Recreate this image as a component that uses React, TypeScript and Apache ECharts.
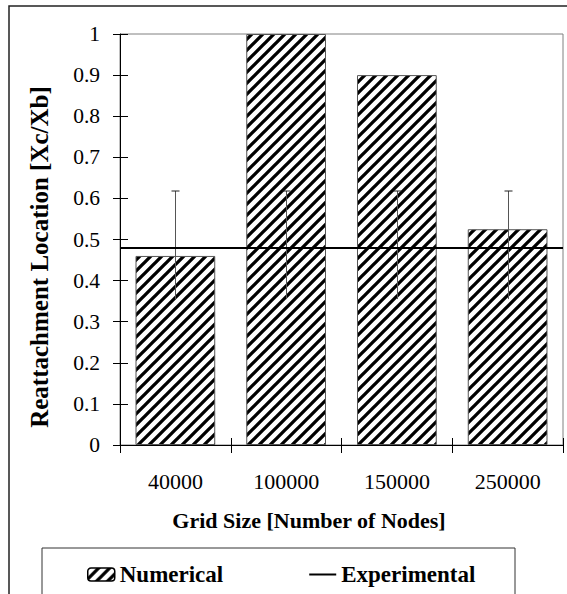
import React, { useEffect, useRef } from "react";
import * as echarts from "echarts";

const categories = ["40000", "100000", "150000", "250000"];
const numerical = [0.46, 1.0, 0.9, 0.525];
const experimental = 0.485;
const expLow = [0.355, 0.355, 0.355, 0.355];
const expHigh = [0.618, 0.618, 0.618, 0.618];
const yTitle = "Reattachment Location [Xc/Xb]";
const xTitle = "Grid Size [Number of Nodes]";

const FONT = "'Liberation Serif', 'Times New Roman', serif";

function makeHatch() {
  const s = 11;
  const c = document.createElement("canvas");
  c.width = s;
  c.height = s;
  const ctx = c.getContext("2d")!;
  ctx.fillStyle = "#fff";
  ctx.fillRect(0, 0, s, s);
  ctx.strokeStyle = "#000";
  ctx.lineWidth = 3.3;
  ctx.beginPath();
  ctx.moveTo(-1, s + 1);
  ctx.lineTo(s + 1, -1);
  ctx.moveTo(-3, 3);
  ctx.lineTo(3, -3);
  ctx.moveTo(s - 3, s + 3);
  ctx.lineTo(s + 3, s - 3);
  ctx.stroke();
  return c;
}

export default function App() {
  const ref = useRef<HTMLDivElement>(null);
  useEffect(() => {
    if (!ref.current) return;
    const chart = echarts.init(ref.current, null, { renderer: "svg" });
    const hatch = makeHatch();
    const pattern: any = { image: hatch, repeat: "repeat", imageWidth: 11, imageHeight: 11 };
    const errData = categories.map((_, i) => [i, expLow[i], expHigh[i]]);
    const option: any = {
      animation: false,
      backgroundColor: "#fff",
      textStyle: { fontFamily: FONT },
      grid: {
        left: 120,
        top: 34,
        right: 4,
        bottom: 149,
        show: true,
        borderColor: "#808080",
        borderWidth: 1,
        backgroundColor: "transparent",
      },
      xAxis: [
        {
          type: "category",
          data: categories,
          position: "bottom",
          axisLine: { show: true, lineStyle: { color: "#000", width: 1 } },
          axisTick: { show: true, inside: false, length: 8, lineStyle: { color: "#000" } },
          axisLabel: { color: "#000", fontFamily: FONT, fontSize: 22, margin: 25 },
          splitLine: { show: false },
        },
        {
          type: "category",
          data: categories,
          position: "bottom",
          axisLine: { show: false },
          axisTick: { show: true, inside: true, length: 7, lineStyle: { color: "#000" } },
          axisLabel: { show: false },
          splitLine: { show: false },
        },
      ],
      yAxis: [
        {
          type: "value",
          min: 0,
          max: 1,
          interval: 0.1,
          position: "left",
          axisLine: { show: true, lineStyle: { color: "#000", width: 1 } },
          axisTick: { show: true, inside: false, length: 7, lineStyle: { color: "#000" } },
          axisLabel: { color: "#000", fontFamily: FONT, fontSize: 21.5, margin: 20 },
          splitLine: { show: false },
        },
        {
          type: "value",
          min: 0,
          max: 1,
          interval: 0.1,
          position: "left",
          axisLine: { show: false },
          axisTick: { show: true, inside: true, length: 8, lineStyle: { color: "#000" } },
          axisLabel: { show: false },
          splitLine: { show: false },
        },
      ],
      legend: {
        left: 87,
        top: 563,
        padding: 0,
        itemWidth: 27,
        itemHeight: 13,
        itemGap: 85,
        textStyle: { fontFamily: FONT, fontSize: 23, fontWeight: "bold", color: "#000" },
        data: [
          { name: "Numerical", itemStyle: { borderColor: "#000", borderWidth: 1.5 } },
          { name: "Experimental", itemStyle: { opacity: 0 } },
        ],
        selectedMode: false,
      },
      graphic: [
        {
          type: "rect",
          shape: { x: 9, y: 6, width: 800, height: 800 },
          style: { fill: "none", stroke: "#222", lineWidth: 1.5 },
          silent: true,
        },
        {
          type: "rect",
          shape: { x: 42, y: 548, width: 473, height: 120 },
          style: { fill: "none", stroke: "#333", lineWidth: 1 },
          silent: true,
        },
        {
          type: "text",
          x: 39,
          y: 257,
          rotation: Math.PI / 2,
          style: {
            text: yTitle,
            fontFamily: FONT,
            fontSize: 25,
            fontWeight: "bold",
            fill: "#000",
            align: "center",
            verticalAlign: "middle",
          },
        },
        {
          type: "text",
          x: 309,
          y: 520,
          style: {
            text: xTitle,
            fontFamily: FONT,
            fontSize: 22,
            fontWeight: "bold",
            fill: "#000",
            align: "center",
            verticalAlign: "middle",
          },
        },
      ],
      series: [
        {
          name: "Numerical",
          type: "bar",
          data: numerical,
          barWidth: "72%",
          z: 2,
          itemStyle: { color: pattern, borderColor: "#555", borderWidth: 1 },
          emphasis: { disabled: true },
        },
        {
          name: "ErrorBars",
          type: "custom",
          data: errData,
          z: 3,
          silent: true,
          renderItem: (params: any, api: any) => {
            const i = api.value(0);
            const lo = api.coord([i, api.value(1)]);
            const hi = api.coord([i, api.value(2)]);
            const x = Math.round(lo[0]) + 0.5;
            return {
              type: "group",
              children: [
                {
                  type: "line",
                  shape: { x1: x, y1: lo[1], x2: x, y2: hi[1] },
                  style: { stroke: "#555", lineWidth: 1 },
                },
                {
                  type: "line",
                  shape: { x1: x - 4, y1: hi[1], x2: x + 4, y2: hi[1] },
                  style: { stroke: "#222", lineWidth: 1 },
                },
              ],
            };
          },
        },
        {
          name: "Experimental",
          type: "line",
          data: [],
          symbol: "none",
          z: 4,
          lineStyle: { color: "#000", width: 2 },
          itemStyle: { color: "#000" },
          markLine: {
            silent: true,
            symbol: "none",
            label: { show: false },
            lineStyle: { color: "#000", width: 2, type: "solid" },
            data: [{ yAxis: experimental }],
          },
        },
      ],
    };
    chart.setOption(option);
    return () => chart.dispose();
  }, []);
  return (
    <div
      ref={ref}
      style={{ position: "fixed", left: 0, top: 0, width: 567, height: 594 }}
    />
  );
}
